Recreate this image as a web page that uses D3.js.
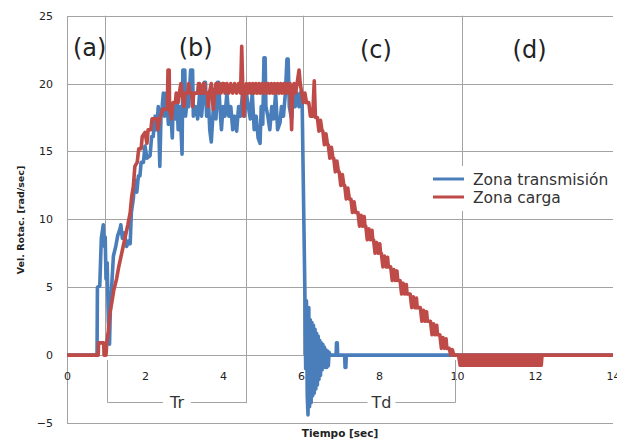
<!DOCTYPE html>
<html>
<head>
<meta charset="utf-8">
<script src="https://cdn.jsdelivr.net/npm/d3@7"></script>
<style>
  body { margin: 0; background: #fff; }
</style>
</head>
<body>
<div id="chart"></div>
<script>
const seriesNames = ['Zona transmisión', 'Zona carga']
const seriesColors = ['#4a7ebb', '#be4b48']

const xTicks = [0, 2, 4, 6, 8, 10, 12, 14]
const yTicks = [-5, 0, 5, 10, 15, 20, 25]

// zone dividers (sec) and the labels that sit between them
const zoneDividers = [0.974, 4.58, 6.06, 10.13]
const zoneLabels = ['(a)', '(b)', '(c)', '(d)']
const zoneLabelTimes = [0.58, 3.3, 7.92, 11.86]

// Tr / Td brackets: [start, end, label]
const brackets = [
  [1.02, 4.58, 'Tr'],
  [6.15, 9.95, 'Td']
]

// Zona transmision: [t (sec), vel (rad/sec)]
const transmision = [
  [0, 0], [0.77, 0], [0.78, 5.0], [0.84, 5.1], [0.88, 8.6], [0.93, 9.6], [0.96, 8.0],
  [0.98, 8.7], [1.0, 5.6], [1.03, 6.8], [1.06, 2.5], [1.09, 0.8], [1.11, 3.2], [1.15, 5.3],
  [1.19, 7.3], [1.25, 8.0], [1.3, 8.8], [1.36, 9.3], [1.38, 9.6], [1.42, 8.6], [1.47, 9.0],
  [1.53, 8.0], [1.58, 8.4], [1.62, 8.2], [1.65, 10.5], [1.7, 11.5], [1.74, 12.9], [1.79, 12.0],
  [1.83, 13.2], [1.87, 13.2], [1.9, 14.2], [1.96, 14.2], [2.0, 15.4], [2.05, 14.5], [2.13, 14.7],
  [2.17, 16.1], [2.21, 16.1], [2.26, 17.6], [2.3, 16.6], [2.34, 18.3], [2.38, 13.9], [2.41, 17.6],
  [2.44, 18.3], [2.47, 19.3], [2.5, 17.6], [2.55, 19.3], [2.6, 17.0], [2.65, 18.3], [2.7, 16.0],
  [2.72, 18.3], [2.78, 17.4], [2.82, 19.2], [2.85, 16.6], [2.9, 18.3], [2.95, 14.8], [2.97, 21.0],
  [3.02, 21.0], [3.04, 17.6], [3.1, 19.3], [3.12, 18.3], [3.17, 21.0], [3.22, 21.0], [3.24, 17.6],
  [3.3, 18.3], [3.35, 17.4], [3.4, 19.3], [3.45, 17.6], [3.5, 19.2], [3.52, 20.1], [3.55, 20.1],
  [3.58, 17.6], [3.62, 19.3], [3.66, 16.6], [3.7, 15.7], [3.74, 17.6], [3.78, 19.3], [3.82, 17.4],
  [3.86, 20.1], [3.89, 20.1], [3.92, 18.3], [3.96, 16.6], [4.0, 18.3], [4.05, 17.6], [4.1, 19.3],
  [4.15, 17.6], [4.2, 18.3], [4.25, 16.6], [4.3, 17.6], [4.35, 16.5], [4.4, 18.3], [4.45, 17.6],
  [4.5, 19.3], [4.55, 17.6], [4.6, 19.3], [4.65, 18.3], [4.7, 17.4], [4.75, 19.3], [4.8, 16.6],
  [4.85, 17.6], [4.9, 16.0], [4.95, 15.6], [4.98, 18.3], [5.02, 17.0], [5.05, 21.9], [5.08, 21.9],
  [5.1, 18.3], [5.15, 17.6], [5.2, 16.6], [5.25, 18.3], [5.3, 17.4], [5.35, 19.3], [5.4, 16.6],
  [5.46, 17.1], [5.5, 18.3], [5.55, 17.6], [5.6, 19.3], [5.64, 21.8], [5.67, 21.8], [5.7, 18.3],
  [5.76, 17.4], [5.8, 19.3], [5.85, 18.3], [5.9, 19.3], [5.95, 18.3], [6.0, 19.4], [6.03, 18.5],
  [6.1, 4.6], [6.12, -1.0], [6.14, 4.0], [6.16, -3.0], [6.18, -4.4], [6.2, 3.5], [6.22, -3.8],
  [6.24, 2.6], [6.26, -3.5], [6.28, 2.4], [6.3, -3.0], [6.32, 2.2], [6.34, -2.8], [6.36, 1.9],
  [6.38, -2.5], [6.4, 1.6], [6.42, -2.2], [6.44, 1.4], [6.46, -1.8], [6.48, 1.1], [6.5, -1.5],
  [6.52, 0.9], [6.54, -1.1], [6.56, 0.8], [6.58, -0.9], [6.6, 0.6], [6.62, -0.9], [6.64, 0.4],
  [6.66, -0.9], [6.68, 0.3], [6.7, -0.8], [6.72, 0.2], [6.75, 0], [6.9, 0], [6.91, 0.9],
  [6.93, 0.9], [6.94, 0], [7.12, 0], [7.13, -0.9], [7.15, -0.9], [7.16, 0], [14, 0]
]

// Zona carga: [t (sec), vel (rad/sec)]
const carga = [
  [0, 0], [0.8, 0], [0.81, 0.9], [0.94, 0.9], [0.95, 0], [1.0, 0], [1.02, 0.9], [1.06, 1.8],
  [1.1, 3.1], [1.15, 3.9], [1.2, 4.8], [1.27, 5.6], [1.32, 6.4], [1.38, 7.2], [1.44, 8.0],
  [1.5, 8.8], [1.56, 9.6], [1.62, 10.5], [1.66, 11.7], [1.7, 12.4], [1.74, 13.9], [1.8, 14.2],
  [1.84, 15.2], [1.9, 15.2], [1.93, 16.1], [2.0, 16.4], [2.05, 15.6], [2.08, 16.6], [2.15, 16.6],
  [2.18, 17.4], [2.3, 17.4], [2.33, 16.6], [2.38, 17.4], [2.45, 18.1], [2.57, 18.1], [2.59, 21.0],
  [2.62, 21.0], [2.63, 18.1], [2.68, 17.4], [2.72, 18.6], [2.78, 18.6], [2.8, 19.3], [2.85, 18.6],
  [2.88, 19.3], [2.92, 20.0], [2.95, 19.3], [3.0, 18.3], [3.03, 19.3], [3.1, 19.3], [3.12, 20.0],
  [3.15, 19.3], [3.2, 19.3], [3.22, 18.3], [3.25, 19.3], [3.35, 19.3], [3.37, 20.0], [3.4, 20.0],
  [3.42, 19.3], [3.48, 19.3], [3.5, 20.0], [3.53, 20.0], [3.55, 19.3], [3.6, 19.3], [3.62, 18.3],
  [3.65, 19.3], [3.7, 20.0], [3.75, 18.1], [3.78, 19.3], [3.82, 20.0], [3.86, 19.3], [3.9, 20.0],
  [3.95, 19.3], [3.98, 20.0], [4.02, 20.0], [4.05, 19.3], [4.1, 20.0], [4.15, 19.3], [4.2, 20.0],
  [4.25, 19.3], [4.3, 20.0], [4.35, 19.3], [4.4, 20.0], [4.45, 19.3], [4.48, 22.75], [4.51, 19.3],
  [4.53, 17.6], [4.56, 19.3], [4.6, 20.0], [4.64, 19.3], [4.68, 20.0], [4.72, 19.3], [4.76, 20.0],
  [4.8, 19.3], [4.84, 20.0], [4.88, 19.3], [4.92, 20.0], [4.96, 19.3], [5.0, 20.0], [5.04, 19.3],
  [5.08, 20.0], [5.12, 19.3], [5.16, 20.0], [5.2, 19.3], [5.24, 20.0], [5.28, 19.3], [5.32, 20.0],
  [5.36, 19.3], [5.4, 20.0], [5.44, 19.3], [5.48, 20.0], [5.52, 19.3], [5.56, 20.0], [5.6, 19.3],
  [5.64, 20.0], [5.68, 19.3], [5.72, 20.0], [5.76, 16.6], [5.78, 19.3], [5.82, 20.0], [5.86, 19.3],
  [5.9, 20.0], [5.95, 21.0], [5.98, 20.0], [6.02, 19.3], [6.06, 18.6], [6.1, 19.3], [6.14, 18.6],
  [6.2, 18.6], [6.24, 17.6], [6.3, 17.6], [6.34, 20.2], [6.37, 17.5],
  [6.42, 17.5], [6.46, 16.5], [6.5, 17.3], [6.54, 16.5],
  [6.56, 16.5], [6.6, 15.5], [6.64, 16.3], [6.68, 15.5],
  [6.7, 15.5], [6.74, 14.5], [6.78, 15.3], [6.82, 14.5],
  [6.84, 14.5], [6.88, 13.5], [6.92, 14.3], [6.96, 13.5],
  [6.98, 13.5], [7.02, 12.5], [7.06, 13.3], [7.1, 12.5],
  [7.12, 12.5], [7.16, 11.5], [7.2, 12.3], [7.24, 11.5],
  [7.28, 11.5], [7.32, 10.5], [7.36, 11.3], [7.4, 10.5],
  [7.46, 10.5], [7.5, 9.5], [7.54, 10.3], [7.58, 9.5], [7.62, 10.2], [7.64, 9.5],
  [7.66, 9.5], [7.7, 8.5], [7.74, 9.3], [7.78, 8.5], [7.82, 9.2], [7.84, 8.5],
  [7.86, 8.5], [7.9, 7.5], [7.94, 8.3], [7.98, 7.5], [8.02, 8.2], [8.04, 7.5],
  [8.06, 7.5], [8.1, 6.5], [8.14, 7.3], [8.18, 6.5], [8.22, 7.2], [8.24, 6.5],
  [8.3, 6.5], [8.34, 5.5], [8.38, 6.3], [8.42, 5.5], [8.46, 6.2], [8.48, 5.5],
  [8.54, 5.5], [8.58, 4.5], [8.62, 5.3], [8.66, 4.5], [8.7, 5.2], [8.72, 4.5],
  [8.8, 4.5], [8.84, 3.5], [8.88, 4.3], [8.92, 3.5], [8.96, 4.2], [8.98, 3.5],
  [9.06, 3.5], [9.1, 2.5], [9.14, 3.3], [9.18, 2.5], [9.22, 3.2], [9.24, 2.5],
  [9.32, 2.5], [9.36, 1.5], [9.4, 2.3], [9.44, 1.5], [9.48, 2.2], [9.5, 1.5],
  [9.56, 1.5], [9.6, 0.5], [9.64, 1.3], [9.68, 0.5], [9.72, 1.2], [9.74, 0.5],
  [9.8, 0.5], [9.84, 0], [9.88, 0.4], [9.92, 0], [10.04, 0],
  [10.08, -0.75], [10.1, 0], [10.12, -0.75], [10.14, 0], [10.16, -0.75], [10.18, 0],
  [10.2, -0.75], [10.22, 0], [10.24, -0.75], [10.26, 0], [10.28, -0.75], [10.3, 0],
  [10.32, -0.75], [10.34, 0], [10.36, -0.75], [10.38, 0], [10.4, -0.75], [10.42, 0],
  [10.44, -0.75], [10.46, 0], [10.48, -0.75], [10.5, 0], [10.52, -0.75], [10.54, 0],
  [10.56, -0.75], [10.58, 0], [10.6, -0.75], [10.62, 0], [10.64, -0.75], [10.66, 0],
  [10.68, -0.75], [10.7, 0], [10.72, -0.75], [10.74, 0], [10.76, -0.75], [10.78, 0],
  [10.8, -0.75], [10.82, 0], [10.84, -0.75], [10.86, 0], [10.88, -0.75], [10.9, 0],
  [10.92, -0.75], [10.94, 0], [10.96, -0.75], [10.98, 0], [11.0, -0.75], [11.02, 0],
  [11.04, -0.75], [11.06, 0], [11.08, -0.75], [11.1, 0], [11.12, -0.75], [11.14, 0],
  [11.16, -0.75], [11.18, 0], [11.2, -0.75], [11.22, 0], [11.24, -0.75], [11.26, 0],
  [11.28, -0.75], [11.3, 0], [11.32, -0.75], [11.34, 0], [11.36, -0.75], [11.38, 0],
  [11.4, -0.75], [11.42, 0], [11.44, -0.75], [11.46, 0], [11.48, -0.75], [11.5, 0],
  [11.52, -0.75], [11.54, 0], [11.56, -0.75], [11.58, 0], [11.6, -0.75], [11.62, 0],
  [11.64, -0.75], [11.66, 0], [11.68, -0.75], [11.7, 0], [11.72, -0.75], [11.74, 0],
  [11.76, -0.75], [11.78, 0], [11.8, -0.75], [11.82, 0], [11.84, -0.75], [11.86, 0],
  [11.88, -0.75], [11.9, 0], [11.92, -0.75], [11.94, 0], [11.96, -0.75], [11.98, 0],
  [12.0, -0.75], [12.02, 0], [12.04, -0.75], [12.06, 0], [12.08, -0.75], [12.1, 0],
  [12.12, -0.75], [12.14, 0], [12.16, -0.75], [12.18, 0],
  [14, 0]
]

const width = 617
const height = 441
const margin = { top: 15.7, left: 67, right: 4, bottom: 18 }

const svg = d3
  .select('#chart')
  .append('svg')
  .attr('width', width)
  .attr('height', height)
  .style('display', 'block')
  .style('background', '#fff')

const xPositionScale = d3
  .scaleLinear()
  .domain([0, 14])
  .range([margin.left, width - margin.right])

const yPositionScale = d3
  .scaleLinear()
  .domain([-5, 25])
  .range([height - margin.bottom, margin.top])

const gridColor = '#a3a3a3'
const tickFont = "'DejaVu Sans', Verdana, sans-serif"

// horizontal gridlines + y labels
const yAxis = d3
  .axisLeft(yPositionScale)
  .tickValues(yTicks)
  .tickSize(-(width - margin.right - margin.left))
  .tickPadding(14)
  .tickFormat(d3.format('d'))

svg
  .append('g')
  .attr('class', 'y-axis')
  .attr('transform', 'translate(' + margin.left + ',0)')
  .call(yAxis)
  .call(g => g.select('.domain').remove())
  .call(g => g.selectAll('line').attr('stroke', gridColor).attr('shape-rendering', 'crispEdges'))
  .call(g =>
    g
      .selectAll('text')
      .attr('font-family', tickFont)
      .attr('font-size', 11)
      .attr('fill', '#222')
  )

// left and bottom border
svg
  .append('path')
  .attr(
    'd',
    'M' + margin.left + ',' + yPositionScale(25) +
      'V' + yPositionScale(-5) +
      'H' + xPositionScale(14)
  )
  .attr('fill', 'none')
  .attr('stroke', gridColor)
  .attr('shape-rendering', 'crispEdges')

// x labels hang under the zero line
const xAxis = d3
  .axisBottom(xPositionScale)
  .tickValues(xTicks)
  .tickSize(0)
  .tickPadding(17)
  .tickFormat(d3.format('d'))

svg
  .append('g')
  .attr('class', 'x-axis')
  .attr('transform', 'translate(0,' + yPositionScale(0) + ')')
  .call(xAxis)
  .call(g => g.select('.domain').remove())
  .call(g =>
    g
      .selectAll('text')
      .attr('font-family', tickFont)
      .attr('font-size', 11)
      .attr('fill', '#222')
  )

// zone dividers
svg
  .selectAll('.divider')
  .data(zoneDividers)
  .enter()
  .append('line')
  .attr('class', 'divider')
  .attr('x1', d => Math.round(xPositionScale(d)) + 0.5)
  .attr('x2', d => Math.round(xPositionScale(d)) + 0.5)
  .attr('y1', yPositionScale(25))
  .attr('y2', (d, i) => (i === 1 ? yPositionScale(-3.55) : yPositionScale(0)))
  .attr('stroke', gridColor)

// brackets under the axis
const bracketY = Math.round(yPositionScale(-3.49)) + 0.5
const bracket = svg
  .selectAll('.bracket')
  .data(brackets)
  .enter()
  .append('g')
  .attr('class', 'bracket')

bracket.each(function(d) {
  const g = d3.select(this)
  const x0 = Math.round(xPositionScale(d[0])) + 0.5
  const x1 = Math.round(xPositionScale(d[1])) + 0.5
  const mid = (x0 + x1) / 2
  g.append('path')
    .attr(
      'd',
      'M' + x0 + ',' + yPositionScale(-0.36) + 'V' + bracketY + 'H' + (mid - 14) +
        'M' + (mid + 14) + ',' + bracketY + 'H' + x1 + 'V' + yPositionScale(-0.36)
    )
    .attr('fill', 'none')
    .attr('stroke', gridColor)
  g.append('text')
    .attr('x', mid)
    .attr('y', bracketY + 5)
    .attr('text-anchor', 'middle')
    .attr('font-family', tickFont)
    .attr('font-size', 16)
    .attr('fill', '#333')
    .text(d[2])
})

// zone labels
svg
  .selectAll('.zone-label')
  .data(zoneLabels)
  .enter()
  .append('text')
  .attr('class', 'zone-label')
  .attr('x', (d, i) => xPositionScale(zoneLabelTimes[i]))
  .attr('y', (d, i) => (i < 2 ? 56 : 58))
  .attr('text-anchor', 'middle')
  .attr('font-family', tickFont)
  .attr('font-size', 24)
  .attr('fill', '#222')
  .text(d => d)

// series
const line = d3
  .line()
  .x(d => xPositionScale(d[0]))
  .y(d => yPositionScale(d[1]))

svg
  .selectAll('.series')
  .data([transmision, carga])
  .enter()
  .append('path')
  .attr('class', 'series')
  .attr('d', line)
  .attr('fill', 'none')
  .attr('stroke', (d, i) => seriesColors[i])
  .attr('stroke-width', 3.6)
  .attr('stroke-linejoin', 'round')

// legend
const legend = svg.append('g').attr('transform', 'translate(429,166)')

legend
  .append('rect')
  .attr('width', 188)
  .attr('height', 45)
  .attr('fill', '#fff')

legend
  .selectAll('.legend-item')
  .data(seriesNames)
  .enter()
  .append('g')
  .attr('class', 'legend-item')
  .attr('transform', (d, i) => 'translate(0,' + (13 + i * 18) + ')')
  .each(function(d, i) {
    const g = d3.select(this)
    g.append('line')
      .attr('x1', 4)
      .attr('x2', 35)
      .attr('stroke', seriesColors[i])
      .attr('stroke-width', 3)
    g.append('text')
      .attr('x', 44)
      .attr('y', 5.5)
      .attr('font-family', tickFont)
      .attr('font-size', 15.5)
      .attr('fill', '#333')
      .text(d)
  })

// axis titles
svg
  .append('text')
  .attr('transform', 'translate(24,' + 220 + ') rotate(-90)')
  .attr('text-anchor', 'middle')
  .attr('font-family', tickFont)
  .attr('font-weight', 'bold')
  .attr('font-size', 9.5)
  .attr('fill', '#222')
  .text('Vel. Rotac. [rad/sec]')

svg
  .append('text')
  .attr('x', 340)
  .attr('y', 437)
  .attr('text-anchor', 'middle')
  .attr('font-family', tickFont)
  .attr('font-weight', 'bold')
  .attr('font-size', 10.5)
  .attr('fill', '#222')
  .text('Tiempo [sec]')
</script>
</body>
</html>
